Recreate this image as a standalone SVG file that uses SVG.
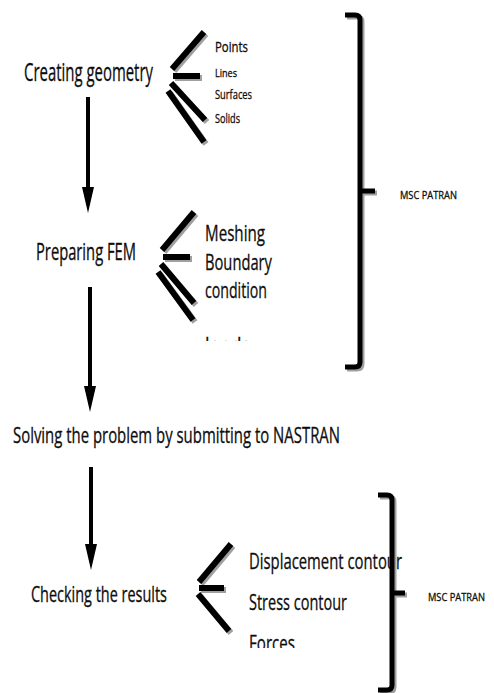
<svg xmlns="http://www.w3.org/2000/svg" width="494" height="693" viewBox="0 0 494 693">
<style>
text{font-family:"Open Sans","Liberation Sans",sans-serif;fill:#0d0d0d;stroke:#0d0d0d;stroke-width:0.3}
.shad{stroke:#a0a0a0}
.blk{stroke:#000}
.chev path{fill:none;stroke-width:6;stroke-linecap:butt}
.brk path{fill:none;stroke-width:5;stroke-linecap:butt;stroke-linejoin:round}
.conn line{stroke:#000;stroke-width:4}
</style>
<defs>
<marker id="ah" viewBox="0 0 26 12" markerWidth="26" markerHeight="12" refX="8" refY="6" orient="auto" markerUnits="userSpaceOnUse">
<path d="M0,0 L26,6 L0,12 z" fill="#000"/>
</marker>
<clipPath id="clipFem"><rect x="200" y="200" width="90" height="141"/></clipPath>
<clipPath id="clipRes"><rect x="240" y="530" width="180" height="118"/></clipPath>
</defs>

<g id="connectors" class="conn">
<line x1="88" y1="97" x2="88" y2="195" marker-end="url(#ah)"/>
<line x1="90" y1="287" x2="90" y2="394" marker-end="url(#ah)"/>
<line x1="91" y1="467" x2="91" y2="552" marker-end="url(#ah)"/>
</g>

<g id="node-creating-geometry">
<text x="24" y="81" font-size="25" textLength="129" lengthAdjust="spacingAndGlyphs">Creating geometry</text>
</g>
<g id="node-preparing-fem">
<text x="36" y="260" font-size="23" textLength="100" lengthAdjust="spacingAndGlyphs">Preparing FEM</text>
</g>
<g id="node-solving">
<text x="13" y="443" font-size="21" textLength="327" lengthAdjust="spacingAndGlyphs">Solving the problem by submitting to NASTRAN</text>
</g>
<g id="node-checking">
<text x="31" y="602" font-size="21" textLength="136" lengthAdjust="spacingAndGlyphs">Checking the results</text>
</g>

<g id="geometry-items">
<g class="chev" transform="translate(2,2)">
<path class="shad" d="M204,32 L172,69 M173,76 L200,76 M171,83 L205,120 M168,91 L204,142"/>
</g>
<g class="chev">
<path class="blk" d="M204,32 L172,69 M173,76 L200,76 M171,83 L205,120 M168,91 L204,142"/>
</g>
<text x="215" y="52" font-size="14" textLength="33" lengthAdjust="spacingAndGlyphs">Points</text>
<text x="215" y="77" font-size="11" textLength="22" lengthAdjust="spacingAndGlyphs">Lines</text>
<text x="215" y="99" font-size="13" textLength="37" lengthAdjust="spacingAndGlyphs">Surfaces</text>
<text x="215" y="123" font-size="12" textLength="25" lengthAdjust="spacingAndGlyphs">Solids</text>
</g>

<g id="fem-items">
<g class="chev" transform="translate(2,2)">
<path class="shad" d="M194,212 L162,250 M163,257 L190,257 M161,264 L194,303 M158,272 L193,320"/>
</g>
<g class="chev">
<path class="blk" d="M194,212 L162,250 M163,257 L190,257 M161,264 L194,303 M158,272 L193,320"/>
</g>
<g clip-path="url(#clipFem)">
<text x="205" y="241" font-size="22" textLength="60" lengthAdjust="spacingAndGlyphs">Meshing</text>
<text x="205" y="270" font-size="22" textLength="67" lengthAdjust="spacingAndGlyphs">Boundary</text>
<text x="205" y="298" font-size="22" textLength="62" lengthAdjust="spacingAndGlyphs">condition</text>
<text x="205" y="353" font-size="22" textLength="45" lengthAdjust="spacingAndGlyphs">loads</text>
</g>
</g>

<g id="results-items">
<g class="chev" transform="translate(2,2)">
<path class="shad" d="M231,544 L199,582 M199,588 L224,588 M198,594 L229,631"/>
</g>
<g class="chev">
<path class="blk" d="M231,544 L199,582 M199,588 L224,588 M198,594 L229,631"/>
</g>
<g clip-path="url(#clipRes)">
<text x="249" y="569" font-size="22" textLength="153" lengthAdjust="spacingAndGlyphs">Displacement contour</text>
<text x="249" y="610" font-size="22" textLength="98" lengthAdjust="spacingAndGlyphs">Stress contour</text>
<text x="249" y="651" font-size="22" textLength="46" lengthAdjust="spacingAndGlyphs">Forces</text>
</g>
</g>

<g id="patran-bracket-1">
<g class="brk" transform="translate(2,2)">
<path class="shad" d="M345,15 L355,15 Q360,15 360,20 L360,362 Q360,367 355,367 L345,367 M360,191 L375,191"/>
</g>
<g class="brk">
<path class="blk" d="M345,15 L355,15 Q360,15 360,20 L360,362 Q360,367 355,367 L345,367 M360,191 L375,191"/>
</g>
<text x="400" y="199" font-size="11" textLength="57" lengthAdjust="spacingAndGlyphs">MSC PATRAN</text>
</g>

<g id="patran-bracket-2">
<g class="brk" transform="translate(2,2)">
<path class="shad" d="M378,495 L387,495 Q392,495 392,500 L392,685 Q392,690 387,690 L378,690 M392,593 L405,593"/>
</g>
<g class="brk">
<path class="blk" d="M378,495 L387,495 Q392,495 392,500 L392,685 Q392,690 387,690 L378,690 M392,593 L405,593"/>
</g>
<text x="428" y="601" font-size="11" textLength="57" lengthAdjust="spacingAndGlyphs">MSC PATRAN</text>
</g>
</svg>
